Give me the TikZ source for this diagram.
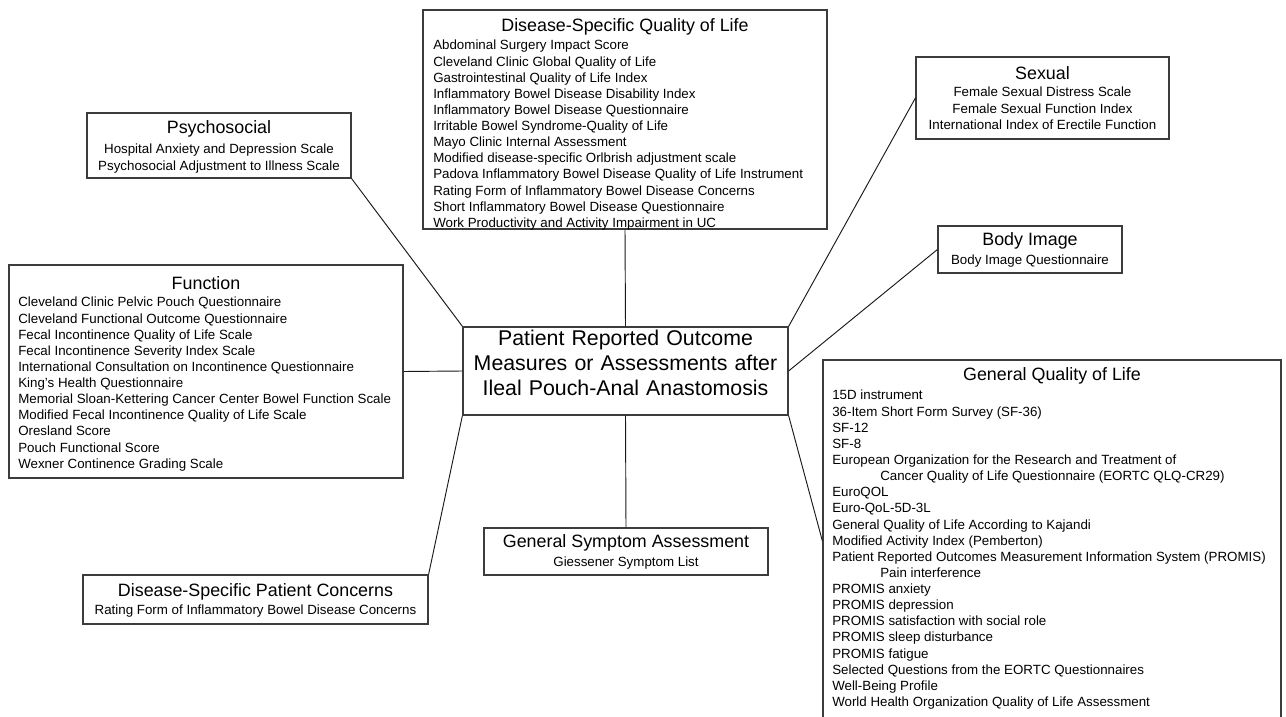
\documentclass[tikz,border=0pt]{standalone}
\usepackage{fontspec}
\setmainfont{Liberation Sans}
\usepackage{tikz}
\usetikzlibrary{fit}
\definecolor{boxgray}{RGB}{60,60,60}
\definecolor{linegray}{RGB}{25,25,25}
\tikzset{
  catbox/.style={rectangle, draw=boxgray, line width=0.9pt, inner sep=0pt},
  cattitle/.style={inner sep=0pt, font=\fontsize{13.4}{15}\selectfont},
  catitems/.style={inner sep=0pt, font=\fontsize{10}{12.1}\selectfont, align=left, anchor=north west},
  catlist/.style={inner sep=0pt, font=\fontsize{10}{12.1}\selectfont, align=center, anchor=north},
  link/.style={draw=linegray, line width=0.7pt}
}

\begin{document}
\begin{tikzpicture}[x=0.75pt, y=-0.75pt]
\clip (0,0) rectangle (1286,717);
\fill[white] (0,0) rectangle (1286,717);
% Center
\node[catbox, fit={(463,327) (788,415)}, align=center, font=\fontsize{16}{18.8}\selectfont] (prom) {Patient Reported Outcome\\Measures or Assessments after\\Ileal Pouch-Anal Anastomosis};
% Disease-specific quality of life
\node[catbox, fit={(423,10) (827,229)}] (dsqol) {};
\node[cattitle] (dsqolT) at (625,27) {Disease-Specific Quality of Life};
\node[catitems] (dsqolL) at (433,40) {Abdominal Surgery Impact Score\\Cleveland Clinic Global Quality of Life\\Gastrointestinal Quality of Life Index\\Inflammatory Bowel Disease Disability Index\\Inflammatory Bowel Disease Questionnaire\\Irritable Bowel Syndrome-Quality of Life\\Mayo Clinic Internal Assessment\\Modified disease-specific Orlbrish adjustment scale\\Padova Inflammatory Bowel Disease Quality of Life Instrument\\Rating Form of Inflammatory Bowel Disease Concerns\\Short Inflammatory Bowel Disease Questionnaire\\Work Productivity and Activity Impairment in UC};
% Psychosocial
\node[catbox, fit={(87,113) (351,178)}] (psy) {};
\node[cattitle] (psyT) at (219,129) {Psychosocial};
\node[catlist] (psyL) at (219,144) {Hospital Anxiety and Depression Scale\\Psychosocial Adjustment to Illness Scale};
% Function
\node[catbox, fit={(9,265) (403,478)}] (fun) {};
\node[cattitle] (funT) at (206,283) {Function};
\node[catitems] (funL) at (18,297) {Cleveland Clinic Pelvic Pouch Questionnaire\\Cleveland Functional Outcome Questionnaire\\Fecal Incontinence Quality of Life Scale\\Fecal Incontinence Severity Index Scale\\International Consultation on Incontinence Questionnaire\\King's Health Questionnaire\\Memorial Sloan-Kettering Cancer Center Bowel Function Scale\\Modified Fecal Incontinence Quality of Life Scale\\Oresland Score\\Pouch Functional Score\\Wexner Continence Grading Scale};
% Sexual
\node[catbox, fit={(916,57) (1169,139)}] (sex) {};
\node[cattitle] (sexT) at (1042.5,73) {Sexual};
\node[catlist] (sexL) at (1042.5,87) {Female Sexual Distress Scale\\Female Sexual Function Index\\International Index of Erectile Function};
% Body image
\node[catbox, fit={(938,226) (1122,273)}] (body) {};
\node[cattitle] (bodyT) at (1030,241) {Body Image};
\node[catlist] (bodyL) at (1030,255) {Body Image Questionnaire};
% General quality of life
\node[catbox, fit={(823,360) (1281,722)}] (gqol) {};
\node[cattitle] (gqolT) at (1052,376) {General Quality of Life};
\node[catitems] (gqolL) at (832,390) {15D instrument\\36-Item Short Form Survey (SF-36)\\SF-12\\SF-8\\European Organization for the Research and Treatment of\\\hspace*{36pt}Cancer Quality of Life Questionnaire (EORTC QLQ-CR29)\\EuroQOL\\Euro-QoL-5D-3L\\General Quality of Life According to Kajandi\\Modified Activity Index (Pemberton)\\Patient Reported Outcomes Measurement Information System (PROMIS)\\\hspace*{36pt}Pain interference\\PROMIS anxiety\\PROMIS depression\\PROMIS satisfaction with social role\\PROMIS sleep disturbance\\PROMIS fatigue\\Selected Questions from the EORTC Questionnaires\\Well-Being Profile\\World Health Organization Quality of Life Assessment};
% General symptom assessment
\node[catbox, fit={(484,528) (768,575)}] (gsa) {};
\node[cattitle] (gsaT) at (626,543) {General Symptom Assessment};
\node[catlist] (gsaL) at (626,557) {Giessener Symptom List};
% Disease-specific patient concerns
\node[catbox, fit={(83,575) (428,624)}] (dspc) {};
\node[cattitle] (dspcT) at (255.5,592) {Disease-Specific Patient Concerns};
\node[catlist] (dspcL) at (255.5,605) {Rating Form of Inflammatory Bowel Disease Concerns};
% Connectors
\draw[link] (dsqol.south) -- (prom.north);
\draw[link] (psy.south east) -- (prom.north west);
\draw[link] (sex.west) -- (prom.north east);
\draw[link] (fun.east) -- (prom.west);
\draw[link] (body.west) -- (prom.east);
\draw[link] (prom.south) -- (gsa.north);
\draw[link] (dspc.north east) -- (prom.south west);
\draw[link] (gqol.west) -- (prom.south east);
\end{tikzpicture}
\end{document}
